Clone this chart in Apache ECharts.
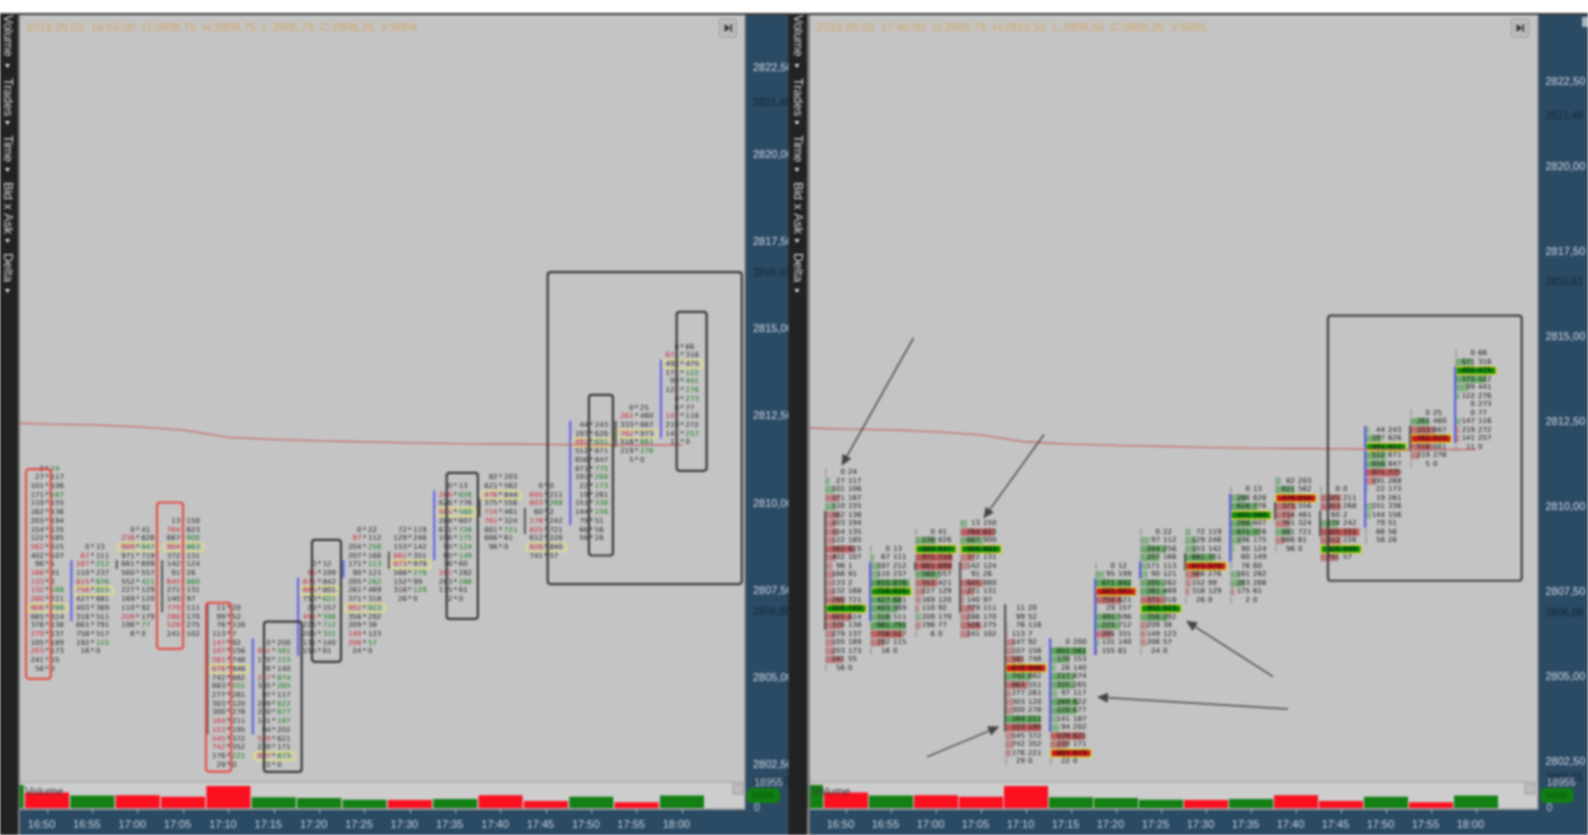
<!DOCTYPE html>
<html lang="en">
<head>
<meta charset="UTF-8">
<title>Footprint charts</title>
<script src="https://cdn.jsdelivr.net/npm/echarts@6/dist/echarts.min.js"></script>
<style>
    html, body { margin: 0; padding: 0; background: #fff; overflow: hidden; }
    #main { width: 1588px; height: 835px; filter: blur(0.8px); }
</style>
</head>
<body>
<div id="main"></div>
<script>
// time slots, 16:45 and 18:05 only hold the edges of the panes
var timeSlots = ['16:45','16:50','16:55','17:00','17:05','17:10','17:15','17:20','17:25','17:30','17:35','17:40','17:45','17:50','17:55','18:00','18:05'];
var priceTicks = [2802.5,2805,2807.5,2810,2812.5,2815,2817.5,2820,2822.5];
var levelPrices = ['2821,48','2816,61','2806,88','2802,01'];
var levelValues = [2821.48,2816.61,2806.88,2802.01];

var volumes = [17800,12000,9696,9900,8900,17000,8400,7900,6600,6300,7100,9900,5600,8900,4600,9696,null];
var volumeUp = [1,0,1,0,0,0,1,1,1,0,1,0,0,1,0,1,0];
var volumeMax = 18955;
var lastVolume = 9696;

// one list per footprint bar, 16:50 to 18:00, first row is the highest price
var topPrices = [2811,2808.75,2809.25,2809.5,2807,2806,2808.25,2809.25,2809.25,2810.5,2810.75,2810.5,2812.25,2812.75,2814.5];
var pocRows = [16,5,2,3,7,13,3,9,4,3,2,7,2,3,2];
var bids = [
    [0,27,101,171,110,162,203,154,122,562,402,96,166,133,132,280,906,665,376,279,105,203,241,56],
    [0,67,187,110,615,756,427,403,316,661,758,192,16],
    [0,236,989,971,661,560,552,227,169,110,209,196,6],
    [13,764,667,904,372,142,91,645,271,140,779,286,526,241],
    [11,99,76,113,147,107,581,676,742,663,277,303,300,164,153,545,742,176,29],
    [0,651,170,26,217,335,97,289,220,141,94,539,239,887,22],
    [0,95,671,885,750,29,491,225,205,131,155],
    [0,97,204,207,171,90,205,261,371,902,356,209,149,206,24],
    [72,129,153,661,873,566,152,316,26],
    [0,286,626,501,288,671,196,90,60,76,161,283,175,2],
    [82,621,476,375,714,761,661,666,96],
    [0,645,603,60,178,825,612,826,741],
    [44,197,491,512,656,871,191,22,19,151,144,79,66,56],
    [0,261,333,762,518,219,5],
    [0,671,492,171,99,122,0,0,147,219,141,11]
];
var asks = [
    [24,117,106,167,155,136,194,135,185,615,107,1,91,2,168,721,789,614,138,137,189,173,55,0],
    [13,111,212,237,676,815,681,369,511,791,517,115,0],
    [41,826,947,719,699,557,421,129,120,92,179,77,0],
    [150,823,900,863,131,124,26,860,131,97,111,170,275,102],
    [20,52,116,7,92,156,748,948,882,551,261,120,278,211,195,372,352,221,0],
    [200,561,153,140,674,265,117,622,677,187,202,621,171,673,0],
    [12,199,842,801,621,157,596,712,331,140,61],
    [22,112,256,166,113,121,262,469,318,923,292,38,123,57,0],
    [119,246,142,351,979,276,99,129,0],
    [13,626,776,560,607,726,175,124,149,60,282,266,61,0],
    [203,562,844,556,461,324,721,61,0],
    [0,211,268,2,242,721,226,840,57],
    [243,626,651,671,847,775,268,173,261,336,156,51,56,26],
    [25,460,667,973,661,276,0],
    [66,316,475,122,441,276,273,77,116,272,257,0]
];
// signed shade length of each row in the right pane, 120 fills the row
var deltas = [
    [0,12,25,-40,30,-40,-30,-35,-25,-85,-30,-20,-25,-20,-25,-55,120,-75,-50,-25,-22,-25,-50,0],
    [0,10,25,25,115,118,90,80,60,105,-95,-40,0],
    [0,60,120,-110,-108,70,-65,-25,-15,-10,15,-15,0],
    [18,-100,65,120,-40,-20,0,-65,-40,-10,-40,-25,-60,-25],
    [0,0,5,-5,-25,-20,-50,-120,75,-65,-15,-20,-20,105,-105,-20,-22,-15,0],
    [0,105,55,15,70,70,20,80,75,20,25,-100,-50,-120,0],
    [0,25,105,-120,-75,5,70,70,-50,10,-5],
    [0,25,75,55,20,20,70,75,-70,120,80,-20,-15,-15,0],
    [15,30,30,85,-120,-40,-15,-10,0],
    [0,45,80,120,65,85,30,10,5,0,25,40,-10,0],
    [15,55,-120,-60,-50,-40,45,-25,0],
    [0,-60,-60,0,50,-115,-60,120,-50],
    [10,45,120,60,60,-100,-30,5,0,20,15,0,0,0],
    [0,55,-70,-118,-65,-25,0],
    [0,50,120,90,35,12,0,0,15,-10,-10,0]
];
var redBidRows = [[9,12,13,14,15,16,19,21],[1,2,4,5],[1,2,10],[1,3,7,10,11,12],[4,5,6,7,13,14,15,16],[1,4,11,13],[1,2,3,6],[1,9,12,13],[3,4],[1,3,10],[2,4,5],[1,2,4,5,7],[2],[1,3],[1,8]];
var greenAskRows = [[0,3,14,16],[2,4,5,11],[2,6,11],[2,3,7],[9,17],[1,2,4,5,7,8,9,13],[4,6,7,8],[2,4,6,9,13],[5,7],[1,3,5,6,7,8,11],[6],[2],[2,5,6,7,9,10],[4,5],[3,4,5,6,10]];
// candle body of each bar: open, close
var bodyOpen = [2809.875,2806.625,2808.375,2808.375,2807.125,2803.375,2805.625,2807.875,2808.625,2808.375,2810.125,2809.875,2809.375,2812.375,2811.875];
var bodyClose = [2806.375,2808.375,2808.125,2806.875,2803.375,2806.125,2807.875,2808.375,2808.125,2810.375,2809.625,2809.125,2812.375,2811.625,2814.125];
// slow average, one value per slot up to 18:00
var averageLine = [2812.32,2812.28,2812.26,2812.2,2812.11,2811.9,2811.84,2811.8,2811.77,2811.74,2811.72,2811.71,2811.7,2811.68,2811.68,2811.68];

// hand drawn marks in slot units and prices: x0, x1, top, bottom
var leftRedBoxes = [[1.037,1.582,2810.99,2804.97],[3.925,4.498,2810.03,2805.83],[5.005,5.557,2807.15,2802.31]];
var leftDarkBoxes = [[6.284,7.115,2806.61,2802.3],[7.342,7.982,2808.96,2805.46],[10.312,11,2810.88,2806.69],[12.539,16.82,2816.64,2807.69],[13.449,13.978,2813.12,2808.51],[15.383,16.044,2815.5,2810.94]];
var rightDarkBoxes = [[12.21,16.516,2815.62,2807.82]];
// x0, price0, x1, price1, the head sits on the second point
var rightArrows = [[3,2814.96,1.402,2811.2],[5.9,2812.12,4.553,2809.65],[3.3,2802.64,4.907,2803.53],[11.32,2804.05,7.076,2804.4],[10.99,2805,9.056,2806.64]];

var leftTitle = '2019.29.03  16:55:00  O:2808,75  H:2808,75  L:2805,75  C:2808,25  V:9004';
var rightTitle = '2019.28.03  17:45:00  O:2809,75  H:2810,50  L:2808,50  C:2809,25  V:5895';

var chartRows = [];
bids.forEach(function (list, b) {
    list.forEach(function (bid, r) {
        chartRows.push({
            slot: b + 1.5, price: topPrices[b] - r * 0.25, bid: bid, ask: asks[b][r], delta: deltas[b][r],
            poc: pocRows[b] === r, redBid: redBidRows[b].indexOf(r) >= 0, greenAsk: greenAskRows[b].indexOf(r) >= 0
        });
    });
});
var rowData = chartRows.map(function (d) { return [d.slot, d.price]; });
var TEXT_FONT = "7px 'DejaVu Sans'";

function leftRow(params, api) {
    var d = chartRows[params.dataIndex];
    var p = api.coord([d.slot, d.price]);
    var kids = [
        {type: 'text', style: {x: p[0] - 3, y: p[1], text: String(d.bid), font: TEXT_FONT, fill: d.redBid ? '#c8202c' : '#222', align: 'right', verticalAlign: 'middle'}},
        {type: 'text', style: {x: p[0], y: p[1], text: '*', font: TEXT_FONT, fill: '#222', align: 'center', verticalAlign: 'middle'}},
        {type: 'text', style: {x: p[0] + 3.5, y: p[1], text: String(d.ask), font: TEXT_FONT, fill: d.greenAsk ? '#0e7a16' : '#222', align: 'left', verticalAlign: 'middle'}}
    ];
    if (d.poc) {
        kids.unshift({type: 'rect', shape: {x: p[0] - 19.5, y: p[1] - 4, width: 40, height: 8, r: 2}, style: {fill: 'none', stroke: '#e6e27a', lineWidth: 1.4}});
    }
    return {type: 'group', children: kids};
}

function rightRow(params, api) {
    var d = chartRows[params.dataIndex];
    var p = api.coord([d.slot, d.price]);
    var x0 = p[0] - 20, full = 40, kids = [];
    var share = Math.abs(d.delta) / 120;
    kids.push({type: 'rect', shape: {x: x0 - 0.5, y: p[1] - 3.5, width: 1, height: 7}, style: {fill: '#888'}});
    if (d.poc) {
        kids.push({type: 'rect', shape: {x: x0, y: p[1] - 3.8, width: full, height: 7.6, r: 1}, style: {fill: d.delta > 0 ? '#0b8a0b' : '#c81a1a', stroke: '#e0d820', lineWidth: 1.3}});
    } else if (d.delta !== 0) {
        kids.push({type: 'rect', shape: {x: x0, y: p[1] - 3.6, width: full * share, height: 7.2}, style: {fill: d.delta > 0 ? '#4a9c4a' : '#b84a4a', opacity: 0.38 + 0.55 * share}});
    }
    kids.push({type: 'text', style: {x: p[0] - 1, y: p[1], text: String(d.bid), font: TEXT_FONT, fill: '#111', align: 'right', verticalAlign: 'middle'}});
    kids.push({type: 'text', style: {x: p[0] + 2, y: p[1], text: String(d.ask), font: TEXT_FONT, fill: '#111', align: 'left', verticalAlign: 'middle'}});
    return {type: 'group', children: kids};
}

function bodyItem(params, api) {
    var i = params.dataIndex;
    var a = api.coord([i + 1.5, bodyOpen[i]]), b = api.coord([i + 1.5, bodyClose[i]]);
    return {type: 'rect', shape: {x: a[0] - 22, y: Math.min(a[1], b[1]), width: 2, height: Math.abs(a[1] - b[1])},
        style: {fill: bodyClose[i] > bodyOpen[i] ? '#5a5af0' : '#555'}};
}

function boxItem(color) {
    return function (params, api) {
        var a = api.coord([api.value(0), api.value(2)]), b = api.coord([api.value(1), api.value(3)]);
        return {type: 'rect', shape: {x: a[0], y: a[1], width: b[0] - a[0], height: b[1] - a[1], r: 3}, style: {fill: 'none', stroke: color, lineWidth: 2.2}};
    };
}

function arrowItem(params, api) {
    var a = api.coord([api.value(0), api.value(1)]), b = api.coord([api.value(2), api.value(3)]);
    var ang = Math.atan2(b[1] - a[1], b[0] - a[0]), s = 11, w = 5;
    var bx = b[0] - s * Math.cos(ang), by = b[1] - s * Math.sin(ang);
    return {type: 'group', children: [
        {type: 'line', shape: {x1: a[0], y1: a[1], x2: bx, y2: by}, style: {stroke: '#4c4c4c', lineWidth: 1.5}},
        {type: 'polygon', shape: {points: [[b[0], b[1]], [bx + w * Math.sin(ang), by - w * Math.cos(ang)], [bx - w * Math.sin(ang), by + w * Math.cos(ang)]]}, style: {fill: '#444'}}
    ]};
}

function levelItem(params, api) {
    var p = api.coord([16.9, levelValues[params.dataIndex]]);
    return {type: 'text', style: {x: params.coordSys.x + params.coordSys.width + api.value(1), y: p[1], text: levelPrices[params.dataIndex],
        font: "10.5px 'Liberation Sans'", fill: '#14263a', align: 'left', verticalAlign: 'middle'}, z2: 5};
}

function tagItem(params, api) {
    var p = api.coord([15, lastVolume]);
    var x = params.coordSys.x + params.coordSys.width - 3;
    return {type: 'group', children: [
        {type: 'rect', shape: {x: x, y: p[1] - 7.5, width: 33, height: 15, r: 5}, style: {fill: '#128012'}},
        {type: 'text', style: {x: x + 16, y: p[1], text: String(lastVolume), font: "10.5px 'Liberation Sans'", fill: '#0a5a10', align: 'center', verticalAlign: 'middle'}}
    ]};
}

var panes = [
    {left: -21, width: 771, priceTop: 2824.02, priceBottom: 2802.01, labelGap: 3, row: leftRow},
    {left: 778.5, width: 765, priceTop: 2824.46, priceBottom: 2801.9, labelGap: 2, row: rightRow}
];

var grids = [], xAxes = [], yAxes = [], series = [];
panes.forEach(function (pane, n) {
    var pg = n * 2, vg = n * 2 + 1;
    grids.push({left: pane.left, width: pane.width, top: 15, height: 767, show: true, backgroundColor: '#c4c4c4', borderWidth: 0, outerBoundsMode: 'none'});
    grids.push({left: pane.left, width: pane.width, top: 783.5, height: 24.8, outerBoundsMode: 'none'});
    xAxes.push({type: 'value', gridIndex: pg, min: 0, max: 17, show: false});
    xAxes.push({type: 'category', gridIndex: vg, data: timeSlots, z: 20,
        axisLine: {show: false},
        axisTick: {show: true, alignWithLabel: true, length: 5, lineStyle: {color: '#aab4c0'}, interval: function (i) { return i >= 1 && i <= 15; }},
        axisLabel: {color: '#ccd4de', fontSize: 11, fontFamily: 'Liberation Sans', margin: 11, padding: [0, 11, 0, 0], interval: function (i) { return i >= 1 && i <= 15; }}
    });
    yAxes.push({type: 'value', gridIndex: pg, position: 'right', min: pane.priceBottom, max: pane.priceTop, z: 20,
        axisLine: {show: false}, axisTick: {show: false}, splitLine: {show: false},
        axisLabel: {customValues: priceTicks, color: '#d4dbe6', fontSize: 11, fontFamily: 'Liberation Sans', margin: pane.labelGap,
            formatter: function (v) { return v.toFixed(2).replace('.', ','); }}
    });
    yAxes.push({type: 'value', gridIndex: vg, position: 'right', min: 0, max: volumeMax, z: 20,
        axisLine: {show: false}, axisTick: {show: false}, splitLine: {show: false},
        axisLabel: {customValues: [0, volumeMax], color: '#c4ccd8', fontSize: 10.5, fontFamily: 'Liberation Sans', margin: pane.labelGap + 1,
            formatter: function (v) { return String(v); }}
    });

    series.push({type: 'bar', xAxisIndex: vg, yAxisIndex: vg, barWidth: 44, silent: true, animation: false,
        data: volumes.map(function (v, i) { return {value: v, itemStyle: {color: volumeUp[i] ? '#138013' : '#fb1020'}}; })});
    series.push({type: 'custom', xAxisIndex: pg, yAxisIndex: pg, renderItem: pane.row, data: rowData, silent: true, animation: false, z: 3});
    series.push({type: 'custom', xAxisIndex: pg, yAxisIndex: pg, renderItem: bodyItem, data: bodyOpen.map(function (v, i) { return [i + 1.5, v]; }), silent: true, animation: false, z: 3});
    series.push({type: 'line', xAxisIndex: pg, yAxisIndex: pg, showSymbol: false, silent: true, animation: false, z: 4,
        lineStyle: {color: '#c46a6a', width: 1.3},
        data: averageLine.map(function (v, i) { return [i + 0.5, v]; })});
    series.push({type: 'custom', xAxisIndex: pg, yAxisIndex: pg, renderItem: levelItem, silent: true, animation: false, z: 15,
        data: levelValues.map(function () { return [16.9, pane.labelGap]; })});
    series.push({type: 'custom', xAxisIndex: vg, yAxisIndex: vg, renderItem: tagItem, data: [[15, lastVolume]], silent: true, animation: false, z: 15});
});
series.push({type: 'custom', xAxisIndex: 0, yAxisIndex: 0, renderItem: boxItem('#e2504a'), data: leftRedBoxes, silent: true, animation: false, z: 5});
series.push({type: 'custom', xAxisIndex: 0, yAxisIndex: 0, renderItem: boxItem('#383838'), data: leftDarkBoxes, silent: true, animation: false, z: 5});
series.push({type: 'custom', xAxisIndex: 2, yAxisIndex: 2, renderItem: boxItem('#404040'), data: rightDarkBoxes, silent: true, animation: false, z: 5});
series.push({type: 'custom', xAxisIndex: 2, yAxisIndex: 2, renderItem: arrowItem, data: rightArrows, silent: true, animation: false, z: 5});

// window furniture
var BLUE = '#2b4a64', DARK = '#222222';
var furniture = [
    {type: 'rect', z: 1, shape: {x: 0, y: 782, width: 760, height: 28}, style: {fill: '#cdcdcd'}},
    {type: 'rect', z: 1, shape: {x: 800, y: 782, width: 760, height: 28}, style: {fill: '#cdcdcd'}},
    {type: 'rect', z: 1, shape: {x: 0, y: 781.5, width: 760, height: 1.5}, style: {fill: '#aeaeae'}},
    {type: 'rect', z: 1, shape: {x: 800, y: 781.5, width: 760, height: 1.5}, style: {fill: '#aeaeae'}},
    {type: 'rect', z: 10, shape: {x: 745, y: 15, width: 44, height: 820}, style: {fill: BLUE}},
    {type: 'rect', z: 10, shape: {x: 1538, y: 15, width: 50, height: 820}, style: {fill: BLUE}},
    {type: 'rect', z: 10, shape: {x: 744.5, y: 15, width: 1, height: 795}, style: {fill: '#8c8c8c'}},
    {type: 'rect', z: 10, shape: {x: 1537.5, y: 15, width: 1, height: 795}, style: {fill: '#8c8c8c'}},
    {type: 'rect', z: 10, shape: {x: 20, y: 810, width: 725, height: 25}, style: {fill: BLUE}},
    {type: 'rect', z: 10, shape: {x: 810, y: 810, width: 728, height: 25}, style: {fill: BLUE}},
    {type: 'rect', z: 10, shape: {x: 20, y: 808.3, width: 725, height: 1.7}, style: {fill: '#9a9a9a'}},
    {type: 'rect', z: 10, shape: {x: 810, y: 808.3, width: 728, height: 1.7}, style: {fill: '#9a9a9a'}},
    {type: 'rect', z: 30, shape: {x: 0, y: 15, width: 18.5, height: 820}, style: {fill: DARK}},
    {type: 'rect', z: 30, shape: {x: 18.5, y: 15, width: 1.5, height: 820}, style: {fill: '#7a7a7a'}},
    {type: 'rect', z: 30, shape: {x: 788.5, y: 15, width: 19, height: 820}, style: {fill: DARK}},
    {type: 'rect', z: 30, shape: {x: 807.5, y: 15, width: 2.5, height: 820}, style: {fill: '#7a7a7a'}},
    {type: 'rect', z: 30, shape: {x: 0, y: 13, width: 1588, height: 2}, style: {fill: '#3a3a3a'}},
    {type: 'rect', z: 31, shape: {x: 1582, y: 17, width: 7, height: 10}, style: {fill: '#a8b4c2'}},
    {type: 'text', z: 8, x: 25, y: 792, style: {text: 'Volume', font: "11.5px 'Liberation Sans'", fill: '#3c3c3c', verticalAlign: 'middle'}},
    {type: 'text', z: 8, x: 812, y: 792, style: {text: 'Volume', font: "11.5px 'Liberation Sans'", fill: '#3c3c3c', verticalAlign: 'middle'}}
];
[{x: 719.5, y: 19}, {x: 1511.5, y: 19}].forEach(function (b) {
    furniture.push({type: 'rect', z: 8, shape: {x: b.x, y: b.y, width: 17, height: 18, r: 1}, style: {fill: '#bdbdbd', stroke: '#9a9a9a', lineWidth: 1}});
    furniture.push({type: 'polygon', z: 9, shape: {points: [[b.x + 5, b.y + 5], [b.x + 11, b.y + 9], [b.x + 5, b.y + 13]]}, style: {fill: '#333'}});
    furniture.push({type: 'rect', z: 9, shape: {x: b.x + 11, y: b.y + 5, width: 1.6, height: 8}, style: {fill: '#333'}});
});
[{x: 733}, {x: 1525}].forEach(function (b) {
    furniture.push({type: 'rect', z: 8, shape: {x: b.x, y: 784, width: 10, height: 10}, style: {fill: '#bcbcbc', stroke: '#8a8a8a', lineWidth: 1, lineDash: [2, 1]}});
});
var stripWords = [{t: 'Volume', y: 15, tri: 66}, {t: 'Trades', y: 78, tri: 123}, {t: 'Time', y: 135, tri: 170}, {t: 'Bid x Ask', y: 182, tri: 241}, {t: 'Delta', y: 253, tri: 291}];
[{x: 7.5}, {x: 797}].forEach(function (s) {
    stripWords.forEach(function (w) {
        furniture.push({type: 'text', z: 31, x: s.x, y: w.y, rotation: -Math.PI / 2,
            style: {text: w.t, font: "12.5px 'Liberation Sans'", fill: '#d8d8d8', align: 'left', verticalAlign: 'middle'}});
        furniture.push({type: 'polygon', z: 31, shape: {points: [[s.x - 2.5, w.tri - 2], [s.x + 2.5, w.tri - 2], [s.x, w.tri + 2]]}, style: {fill: '#e8e8e8'}});
    });
});

var myChart = echarts.init(document.getElementById('main'));
myChart.setOption({
    animation: false,
    backgroundColor: '#ffffff',
    title: [
        {text: leftTitle, left: 21, top: 17, textStyle: {color: '#d2a868', fontSize: 11.6, fontWeight: 'normal', fontFamily: 'Liberation Sans'}},
        {text: rightTitle, left: 811, top: 17, textStyle: {color: '#d2a868', fontSize: 11.6, fontWeight: 'normal', fontFamily: 'Liberation Sans'}}
    ],
    grid: grids,
    xAxis: xAxes,
    yAxis: yAxes,
    series: series,
    graphic: {elements: furniture}
});
</script>
</body>
</html>
